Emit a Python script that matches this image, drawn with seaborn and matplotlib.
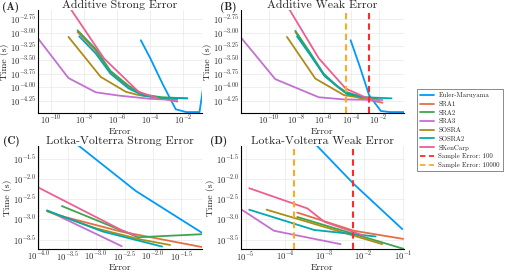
import numpy as np
import pandas as pd
import matplotlib
matplotlib.use("Agg")
import matplotlib.pyplot as plt
from matplotlib.lines import Line2D
import seaborn as sns

methods = ["Euler-Maruyama", "SRA1", "SRA2", "SRA3", "SOSRA", "SOSRA2", "SKenCarp"]
colors = ["#009AFA", "#E36F47", "#3EA44E", "#C271D2", "#AC8D18", "#00A9AD", "#ED5E93"]

# values, as log10(error) and log10(time)
a_err = {
    "Euler-Maruyama": [-4.56, -4.0, -3.25, -2.44, -1.8, -1.0, -0.8],
    "SRA1": [-8.4, -7.3, -6.4, -5.3, -4.4, -3.3, -2.35],
    "SRA2": [-8.4, -7.3, -6.4, -5.3, -4.4, -3.3, -1.74],
    "SRA3": [-11.2, -8.95, -7.29, -5.88, -3.96, -2.35],
    "SOSRA": [-8.95, -6.99, -5.47, -4.7, -3.5, -2.35],
    "SOSRA2": [-8.3, -7.3, -6.4, -5.3, -4.4, -3.3, -1.74],
    "SKenCarp": [-9.2, -6.8, -4.7, -3.5],
}
a_time = {
    "Euler-Maruyama": [-3.14, -3.46, -3.93, -4.40, -4.45, -4.45, -4.05],
    "SRA1": [-2.99, -3.33, -3.72, -4.0, -4.14, -4.2, -4.26],
    "SRA2": [-2.96, -3.3, -3.7, -3.97, -4.13, -4.18, -4.2],
    "SRA3": [-2.95, -3.83, -4.09, -4.15, -4.21, -4.23],
    "SOSRA": [-3.08, -3.81, -4.08, -4.14, -4.19, -4.21],
    "SOSRA2": [-3.07, -3.38, -3.75, -4.02, -4.15, -4.19, -4.2],
    "SKenCarp": [-2.4, -3.47, -4.08, -4.2],
}

b_err = {
    "Euler-Maruyama": [-4.04, -3.4, -2.7, -1.85, -1.2, 0.0],
    "SRA1": [-8.05, -7.0, -6.0, -5.0, -4.4, -3.3, -1.72],
    "SRA2": [-8.05, -7.0, -6.0, -5.0, -4.4, -3.3, -2.0],
    "SRA3": [-12.3, -9.51, -6.35, -4.5, -1.72],
    "SOSRA": [-8.66, -6.6, -4.53, -3.3, -2.09],
    "SOSRA2": [-7.93, -7.0, -5.9, -4.3, -3.0, -1.07],
    "SKenCarp": [-8.7, -6.35, -4.4, -2.82, -2.5],
}
b_time = {
    "Euler-Maruyama": [-3.14, -3.6, -4.14, -4.43, -4.45, -4.45],
    "SRA1": [-2.99, -3.38, -3.77, -3.99, -4.1, -4.2, -4.28],
    "SRA2": [-2.97, -3.36, -3.75, -3.98, -4.08, -4.17, -4.22],
    "SRA3": [-3.0, -3.85, -4.18, -4.22, -4.23],
    "SOSRA": [-3.08, -3.84, -4.14, -4.19, -4.2],
    "SOSRA2": [-3.07, -3.4, -3.8, -4.12, -4.18, -4.2],
    "SKenCarp": [-2.49, -3.47, -4.02, -4.2, -4.22],
}

c_err = {
    "Euler-Maruyama": [-3.45, -2.3, -1.15],
    "SRA1": [-3.63, -2.56, -1.07],
    "SRA2": [-3.6, -2.26, -1.07],
    "SRA3": [-3.86, -2.55],
    "SOSRA": [-3.86, -3.0, -2.2, -1.7],
    "SOSRA2": [-3.86, -2.88, -1.84],
    "SKenCarp": [-4.1, -2.56, -2.3],
}
c_time = {
    "Euler-Maruyama": [-1.02, -2.3, -3.32],
    "SRA1": [-2.91, -3.3, -3.7],
    "SRA2": [-2.67, -3.44, -3.36],
    "SRA3": [-2.78, -3.66],
    "SOSRA": [-2.8, -3.22, -3.5, -3.63],
    "SOSRA2": [-2.78, -3.3, -3.67],
    "SKenCarp": [-2.15, -3.26, -3.4],
}

d_err = {
    "Euler-Maruyama": [-3.4, -2.25, -1.02],
    "SRA1": [-3.69, -2.25, -1.0],
    "SRA2": [-3.69, -0.94],
    "SRA3": [-5.1, -4.28, -2.59],
    "SOSRA": [-4.47, -1.53],
    "SOSRA2": [-4.91, -3.26, -1.7],
    "SKenCarp": [-4.91, -3.43, -3.0, -2.0],
}
d_time = {
    "Euler-Maruyama": [-0.97, -2.13, -3.24],
    "SRA1": [-2.83, -3.28, -3.48],
    "SRA2": [-2.94, -3.74],
    "SRA3": [-2.76, -3.28, -3.61],
    "SOSRA": [-2.76, -3.61],
    "SOSRA2": [-2.76, -3.26, -3.42],
    "SKenCarp": [-2.23, -2.73, -3.06, -3.4],
}

# sample error lines (log10 error): [100, 10000]
b_sample = [-2.74, -4.35]
d_sample = [-2.27, -3.77]

titles = ["Additive Strong Error", "Additive Weak Error",
          "Lotka-Volterra Strong Error", "Lotka-Volterra Weak Error"]
letters = ["(A)", "(B)", "(C)", "(D)"]

sns.set_style("white")
plt.rcParams["font.family"] = "cmr10"
plt.rcParams["mathtext.fontset"] = "cm"
plt.rcParams["axes.formatter.use_mathtext"] = True

fig = plt.figure(figsize=(5.1, 2.72), dpi=100)
ax_a = fig.add_axes([0.0745, 0.586, 0.3215, 0.377])
ax_b = fig.add_axes([0.4725, 0.586, 0.3195, 0.377])
ax_c = fig.add_axes([0.0745, 0.086, 0.3215, 0.377])
ax_d = fig.add_axes([0.4725, 0.086, 0.3195, 0.377])


def to_frame(errs, times):
    rows = []
    for m in methods:
        for e, t in zip(errs[m], times[m]):
            rows.append({"method": m, "err": 10.0 ** e, "time": 10.0 ** t})
    return pd.DataFrame(rows)


panels = [
    (ax_a, a_err, a_time, None, (-10.8, -0.85), (-4.46, -2.59)),
    (ax_b, b_err, b_time, b_sample, (-12.0, -0.17), (-4.46, -2.59)),
    (ax_c, c_err, c_time, None, (-4.02, -1.14), (-3.72, -1.19)),
    (ax_d, d_err, d_time, d_sample, (-5.12, -0.98), (-3.72, -1.19)),
]

for i, (ax, errs, times, sample, xl, yl) in enumerate(panels):
    df = to_frame(errs, times)
    ax.set_xscale("log")
    ax.set_yscale("log")
    sns.lineplot(data=df, x="err", y="time", hue="method", hue_order=methods,
                 palette=colors, sort=False, estimator=None, lw=1.3,
                 legend=False, ax=ax)
    if sample is not None:
        ax.axvline(10.0 ** sample[0], color="#FF2A2A", ls=(0, (3, 2)), lw=1.5)
        ax.axvline(10.0 ** sample[1], color="#FFAA22", ls=(0, (3, 2)), lw=1.5)
    ax.set_xlim(10.0 ** xl[0], 10.0 ** xl[1])
    ax.set_ylim(10.0 ** yl[0], 10.0 ** yl[1])

    if i < 2:
        yt = [-4.25, -4.0, -3.75, -3.5, -3.25, -3.0, -2.75]
        ylab = [r"$10^{%.2f}$" % v for v in yt]
        xt = [-10, -8, -6, -4, -2]
        xlab = [r"$10^{%d}$" % v for v in xt]
    else:
        yt = [-3.5, -3.0, -2.5, -2.0, -1.5]
        ylab = [r"$10^{%.1f}$" % v for v in yt]
        if i == 2:
            xt = [-4.0, -3.5, -3.0, -2.5, -2.0, -1.5]
            xlab = [r"$10^{%.1f}$" % v for v in xt]
        else:
            xt = [-5, -4, -3, -2, -1]
            xlab = [r"$10^{%d}$" % v for v in xt]
    ax.set_yticks([10.0 ** v for v in yt])
    ax.set_yticklabels(ylab)
    ax.set_xticks([10.0 ** v for v in xt])
    ax.set_xticklabels(xlab)
    ax.minorticks_off()
    ax.tick_params(length=0, labelsize=6.3, pad=1.2)
    ax.grid(True, color="#e8e8e8", lw=0.5)
    for s in ["top", "right"]:
        ax.spines[s].set_visible(False)
    for s in ["left", "bottom"]:
        ax.spines[s].set_color("black")
        ax.spines[s].set_linewidth(0.8)
    ax.set_xlabel("Error", fontsize=7, labelpad=0.2)
    ax.set_ylabel("Time (s)", fontsize=7, labelpad=0.5)
    ax.set_title(titles[i], fontsize=8.5, pad=1.2)

fig.text(0.003, 0.972, letters[0], fontsize=8, family="cmb10", va="center")
fig.text(0.431, 0.972, letters[1], fontsize=8, family="cmb10", va="center")
fig.text(0.006, 0.479, letters[2], fontsize=8, family="cmb10", va="center")
fig.text(0.412, 0.479, letters[3], fontsize=8, family="cmb10", va="center")

handles = [Line2D([], [], color=c, lw=1.3) for c in colors]
handles.append(Line2D([], [], color="#FF2A2A", lw=1.3, ls=(0, (3, 2))))
handles.append(Line2D([], [], color="#FFAA22", lw=1.3, ls=(0, (3, 2))))
labels = methods + ["Sample Error: 100", "Sample Error: 10000"]
leg = fig.legend(handles, labels, loc="upper left", bbox_to_anchor=(0.811, 0.684),
                 fontsize=4.9, frameon=True, fancybox=False, edgecolor="#555555",
                 handlelength=2.0, handletextpad=0.7, labelspacing=0.42,
                 borderpad=0.45)
leg.get_frame().set_linewidth(0.6)

fig.savefig("out.png", dpi=100)
